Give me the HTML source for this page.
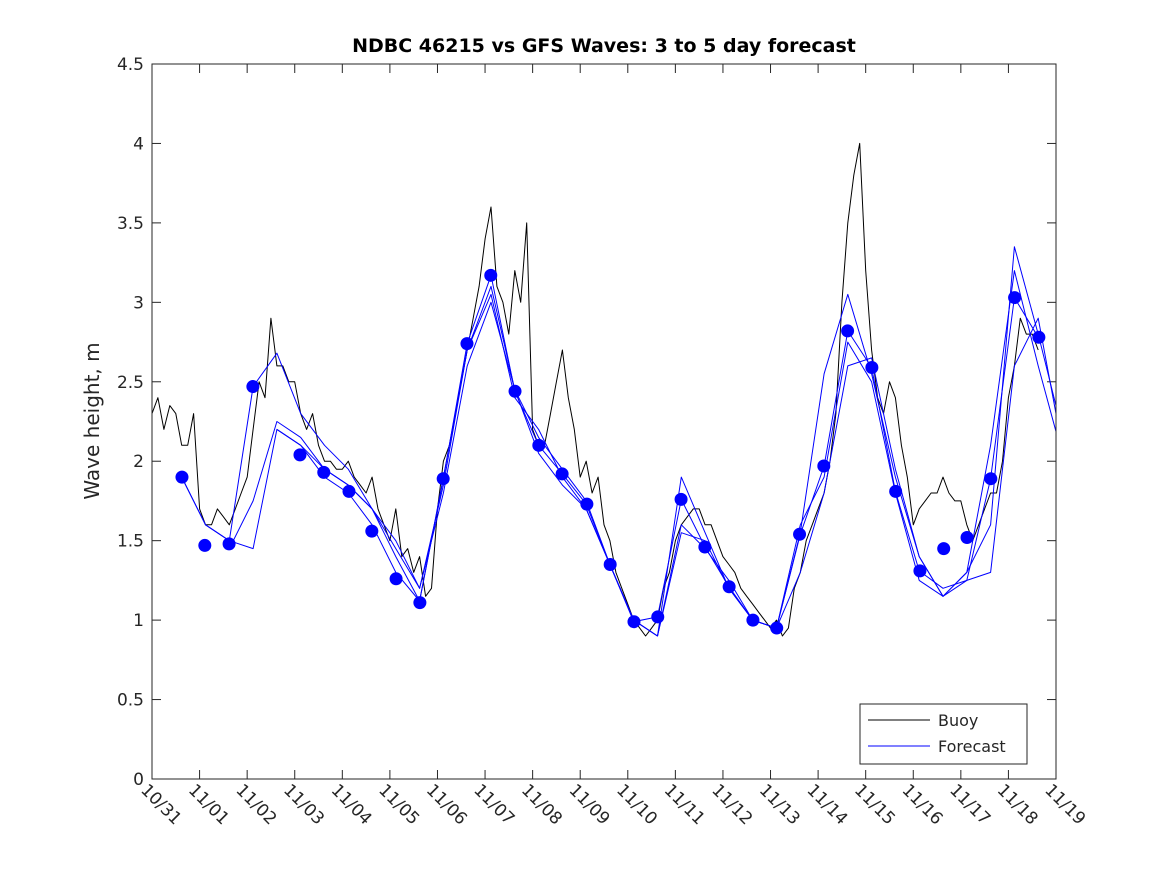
<!DOCTYPE html>
<html><head><meta charset="utf-8"><style>
body{margin:0;background:#fff;font-family:"Liberation Sans","DejaVu Sans",sans-serif}
svg text{font-family:"DejaVu Sans","Liberation Sans",sans-serif;fill:#262626}
</style></head><body>
<svg id="chart" width="1167" height="875" viewBox="0 0 1167 875">
<defs><clipPath id="clip"><rect x="152" y="64" width="904" height="715"/></clipPath></defs>
<rect width="1167" height="875" fill="#fff"/>
<text x="604" y="52" text-anchor="middle" font-size="19" font-weight="bold" style="fill:#000">NDBC 46215 vs GFS Waves: 3 to 5 day forecast</text>
<text transform="translate(99,421) rotate(-90)" text-anchor="middle" font-size="20">Wave height, m</text>
<g id="axes"></g>
<g id="plot" clip-path="url(#clip)"></g>
<rect x="152" y="64" width="904" height="715" fill="none" stroke="#262626" stroke-width="1"/>
<g>
<rect x="860" y="704" width="167" height="60" fill="#fff" stroke="#262626"/>
<line x1="868" y1="720" x2="930" y2="720" stroke="#000"/>
<text x="938" y="726" font-size="16">Buoy</text>
<line x1="868" y1="746" x2="930" y2="746" stroke="#0000ff"/>
<text x="938" y="752" font-size="16">Forecast</text>
</g>
</svg>
<script>
const xTicks=["10/31","11/01","11/02","11/03","11/04","11/05","11/06","11/07","11/08","11/09","11/10","11/11","11/12","11/13","11/14","11/15","11/16","11/17","11/18","11/19"];
const yTicks=[0,0.5,1,1.5,2,2.5,3,3.5,4,4.5];
const buoyStart=0, buoyStep=0.125;
const buoyValues=[2.3,2.4,2.2,2.35,2.3,2.1,2.1,2.3,
1.7,1.6,1.6,1.7,1.65,1.6,1.7,1.8,
1.9,2.2,2.5,2.4,2.9,2.6,2.6,2.5,
2.5,2.3,2.2,2.3,2.1,2.0,2.0,1.95,
1.95,2.0,1.9,1.85,1.8,1.9,1.7,1.6,
1.5,1.7,1.4,1.45,1.3,1.4,1.15,1.2,
1.7,2.0,2.1,2.3,2.5,2.7,2.9,3.1,
3.4,3.6,3.1,3.0,2.8,3.2,3.0,3.5,
2.2,2.1,2.1,2.3,2.5,2.7,2.4,2.2,
1.9,2.0,1.8,1.9,1.6,1.5,1.3,1.2,
1.1,1.0,0.95,0.9,0.95,1.0,1.2,1.3,
1.5,1.6,1.65,1.7,1.7,1.6,1.6,1.5,
1.4,1.35,1.3,1.2,1.15,1.1,1.05,1.0,
0.95,1.0,0.9,0.95,1.2,1.3,1.5,1.6,
1.7,1.8,2.0,2.3,3.0,3.5,3.8,4.0,
3.2,2.7,2.4,2.3,2.5,2.4,2.1,1.9,
1.6,1.7,1.75,1.8,1.8,1.9,1.8,1.75,
1.75,1.6,1.5,1.6,1.7,1.8,1.8,2.0,
2.4,2.6,2.9,2.8,2.8,2.7];
const dotTimes=[0.63,1.11,1.62,2.12,3.11,3.61,4.14,4.62,5.13,5.63,6.12,6.62,7.12,7.63,8.13,8.62,9.14,9.63,10.13,10.63,11.12,11.62,12.13,12.63,13.13,13.61,14.12,14.62,15.13,15.63,16.14,16.64,17.13,17.63,18.13,18.64];
const dotValues=[1.9,1.47,1.48,2.47,2.04,1.93,1.81,1.56,1.26,1.11,1.89,2.74,3.17,2.44,2.1,1.92,1.73,1.35,0.99,1.02,1.76,1.46,1.21,1.0,0.95,1.54,1.97,2.82,2.59,1.81,1.31,1.45,1.52,1.89,3.03,2.78];
const fcAStart=0.625, fcStep=0.5;
const fcAValues=[1.9,1.6,1.5,2.47,2.68,2.3,2.1,1.95,1.7,1.4,1.12,1.89,2.74,3.17,2.44,2.1,1.92,1.73,1.35,0.99,1.02,1.76,1.46,1.21,1.0,0.95,1.54,1.97,2.82,2.59,1.81,1.31,1.2,1.25,1.89,3.03,2.78];
const fcBStart=1.625;
const fcBValues=[1.45,1.75,2.25,2.15,1.95,1.85,1.7,1.45,1.2,1.8,2.6,3.0,2.45,2.05,1.85,1.7,1.35,1.0,0.9,1.55,1.5,1.2,1.0,0.95,1.3,1.8,2.6,2.65,1.95,1.4,1.15,1.25,1.3,2.6,2.9,2.1];
const fcCStart=2.625;
const fcCValues=[2.2,2.1,1.95,1.85,1.7,1.5,1.2,1.85,2.7,3.1,2.45,2.15,1.95,1.75,1.35,1.0,0.9,1.9,1.55,1.2,1.0,0.95,1.55,2.55,3.05,2.55,1.9,1.4,1.15,1.3,1.6,3.35,2.8,2.2];
const fcDStart=0.625;
const fcDValues=[1.9,1.6,1.5,1.45,2.2,2.1,1.9,1.8,1.6,1.3,1.12,1.9,2.7,3.05,2.4,2.2,1.9,1.7,1.35,1.0,0.9,1.6,1.45,1.25,1.0,0.95,1.6,1.9,2.75,2.5,1.8,1.25,1.15,1.3,2.1,3.2,2.6,2.05];

const X0=152,X1=1056,Y0=779,Y1=64;
const xs=d=>X0+(X1-X0)*d/19;
const ys=v=>Y0-(Y0-Y1)*v/4.5;
const NS="http://www.w3.org/2000/svg";
const axes=document.getElementById('axes'), plot=document.getElementById('plot');
function mk(tag,attrs,parent){const e=document.createElementNS(NS,tag);for(const k in attrs)e.setAttribute(k,attrs[k]);parent.appendChild(e);return e;}
yTicks.forEach(v=>{
  const y=ys(v);
  const l=mk('line',{x1:X0,y1:y,x2:X0+9,y2:y,stroke:'#262626'},axes);
  
  
  const r=mk('line',{x1:X1-9,y1:y,x2:X1,y2:y,stroke:'#262626'},axes);
  
  
  const t=mk('text',{x:X0-8,y:y+6,'text-anchor':'end','font-size':17},axes);
  t.textContent=String(v);
  
  
});
xTicks.forEach((s,i)=>{
  const x=xs(i);
  const l=mk('line',{x1:x,y1:Y0,x2:x,y2:Y0-9,stroke:'#262626'},axes);
  
  
  const u=mk('line',{x1:x,y1:Y1,x2:x,y2:Y1+9,stroke:'#262626'},axes);
  
  
  const t=mk('text',{transform:`translate(${x-12},${Y0+12}) rotate(45)`,'font-size':17},axes);
  t.textContent=s;
  
  
});
function line(start,step,vals,color,w,name){
  const pts=vals.map((v,i)=>xs(start+i*step).toFixed(1)+','+ys(v).toFixed(1)).join(' ');
  const p=mk('polyline',{points:pts,fill:'none',stroke:color,'stroke-width':w,'stroke-linejoin':'round'},plot);
  
  
}
line(buoyStart,buoyStep,buoyValues,'#000',1,'buoy-line');
line(fcBStart,fcStep,fcBValues,'#0000ff',1,'forecast-line-b');
line(fcCStart,fcStep,fcCValues,'#0000ff',1,'forecast-line-c');
line(fcDStart,fcStep,fcDValues,'#0000ff',1,'forecast-line-d');
line(fcAStart,fcStep,fcAValues,'#0000ff',1,'forecast-line-a');
dotValues.forEach((v,i)=>{
  const c=mk('circle',{cx:xs(dotTimes[i]),cy:ys(v),r:6.5,fill:'#0000ff'},plot);
  
  
});
</script>
</body></html>
